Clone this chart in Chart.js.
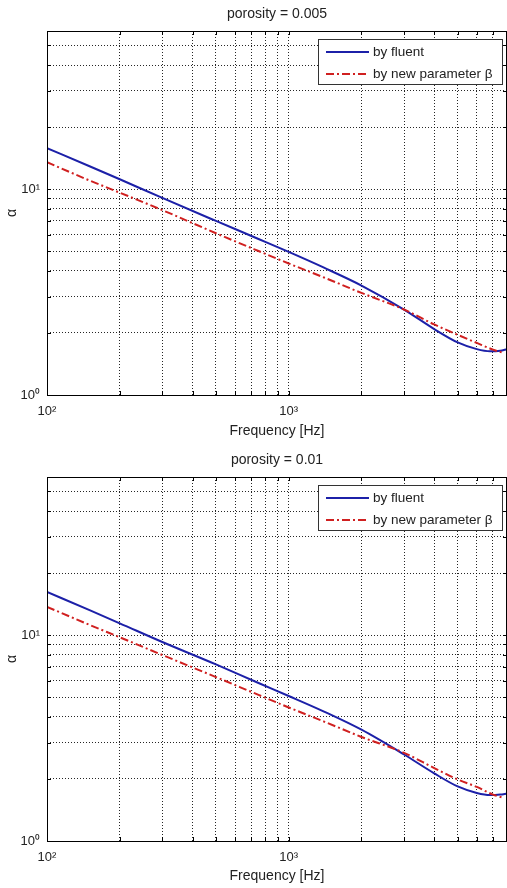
<!DOCTYPE html>
<html lang="en">
<head>
<meta charset="UTF-8">
<title>alpha vs frequency</title>
<style>
  body { margin: 0; background: #fff; }
  canvas { display: block; }
</style>
</head>
<body>
<canvas id="chartTop" width="507" height="446"></canvas>
<canvas id="chartBottom" width="507" height="442"></canvas>
<script src="https://cdn.jsdelivr.net/npm/chart.js"></script>
<script>
// values
const freqFluent = [100, 150, 200, 300, 500, 750, 1000, 1400, 2000, 3000, 4000, 5000, 6000, 6800, 7500, 8000];
const freqBeta   = [100, 150, 200, 300, 500, 750, 1000, 1400, 2000, 3000, 4000, 5000, 6000, 7000, 7600];

const fluent005 = [15.8, 12.9, 11.15, 9.05, 7.0, 5.72, 4.95, 4.15, 3.40, 2.60, 2.09, 1.80, 1.67, 1.63, 1.64, 1.67];
const beta005   = [13.5, 11.0, 9.6, 7.9, 6.1, 5.0, 4.35, 3.72, 3.13, 2.60, 2.20, 1.96, 1.79, 1.66, 1.61];

const fluent01 = [16.2, 13.2, 11.4, 9.25, 7.2, 5.85, 5.06, 4.25, 3.47, 2.63, 2.13, 1.84, 1.71, 1.67, 1.68, 1.70];
const beta01   = [13.7, 11.2, 9.75, 8.0, 6.25, 5.12, 4.45, 3.80, 3.20, 2.68, 2.26, 1.99, 1.83, 1.68, 1.63];

const xTicks = [100, 200, 300, 400, 500, 600, 700, 800, 900, 1000, 2000, 3000, 4000, 5000, 6000, 7000];
const yTicks = [1, 2, 3, 4, 5, 6, 7, 8, 9, 10, 20, 30, 40, 50];
const tickLabels = { 1: '10⁰', 10: '10¹', 100: '10²', 1000: '10³' };

const BLUE = '#1c20a8';
const RED = '#d02020';
const FONT = '"Liberation Sans", Arial, sans-serif';

// box, inward ticks and legend, matlab style
const frame = {
  id: 'frame',
  afterDraw(chart) {
    const { ctx, chartArea: a, scales: { x, y } } = chart;
    ctx.save();
    ctx.strokeStyle = '#000';
    ctx.lineWidth = 1;
    ctx.setLineDash([]);
    ctx.strokeRect(a.left + 0.5, a.top + 0.5, a.right - a.left - 1, a.bottom - a.top);
    ctx.beginPath();
    xTicks.forEach(v => {
      const px = Math.round(x.getPixelForValue(v)) + 0.5;
      ctx.moveTo(px, a.bottom); ctx.lineTo(px, a.bottom - 4);
      ctx.moveTo(px, a.top); ctx.lineTo(px, a.top + 4);
    });
    yTicks.forEach(v => {
      const py = Math.round(y.getPixelForValue(v)) + 0.5;
      ctx.moveTo(a.left, py); ctx.lineTo(a.left + 4, py);
      ctx.moveTo(a.right, py); ctx.lineTo(a.right - 4, py);
    });
    ctx.stroke();

    // legend box
    const bx = a.right - 189, by = a.top + 8, bw = 184, bh = 45;
    ctx.fillStyle = '#fff';
    ctx.fillRect(bx, by, bw, bh);
    ctx.strokeStyle = '#333';
    ctx.strokeRect(bx + 0.5, by + 0.5, bw, bh);
    ctx.font = '13.5px ' + FONT;
    ctx.textBaseline = 'middle';
    chart.data.datasets.forEach((ds, i) => {
      const ly = by + 13 + i * 22;
      ctx.strokeStyle = ds.borderColor;
      ctx.lineWidth = 2;
      ctx.setLineDash(ds.borderDash || []);
      ctx.beginPath();
      ctx.moveTo(bx + 8, ly); ctx.lineTo(bx + 51, ly);
      ctx.stroke();
      ctx.fillStyle = '#222';
      ctx.fillText(ds.label, bx + 55, ly);
    });
    ctx.restore();
  }
};

function makeChart(id, title, fluent, beta, xHeight, xTitlePad) {
  return new Chart(document.getElementById(id), {
    type: 'line',
    data: {
      datasets: [
        {
          label: 'by fluent',
          data: freqFluent.map((f, i) => ({ x: f, y: fluent[i] })),
          borderColor: BLUE,
          borderWidth: 2,
          pointRadius: 0,
          cubicInterpolationMode: 'monotone',
          order: 2
        },
        {
          label: 'by new parameter β',
          data: freqBeta.map((f, i) => ({ x: f, y: beta[i] })),
          borderColor: RED,
          borderWidth: 2,
          borderDash: [8, 3, 2, 3],
          pointRadius: 0,
          cubicInterpolationMode: 'monotone',
          order: 1
        }
      ]
    },
    options: {
      responsive: false,
      animation: false,
      layout: { padding: 0 },
      plugins: {
        legend: { display: false },
        tooltip: { enabled: false },
        title: {
          display: true,
          text: title,
          fullSize: false,
          color: '#222',
          font: { family: FONT, size: 14, weight: 'normal', lineHeight: 1.2 },
          padding: { top: 6, bottom: 8.2 }
        }
      },
      scales: {
        x: {
          type: 'logarithmic',
          min: 100,
          max: 8000,
          border: { display: false, dash: [1, 2] },
          grid: { color: 'rgba(0,0,0,0.85)', lineWidth: 1, drawTicks: false },
          afterBuildTicks: s => { s.ticks = xTicks.map(v => ({ value: v })); },
          afterFit: s => { s.height = xHeight; },
          ticks: {
            autoSkip: false,
            maxRotation: 0,
            padding: 9,
            color: '#222',
            font: { family: FONT, size: 13 },
            callback: v => tickLabels[v] || ''
          },
          title: {
            display: true,
            text: 'Frequency [Hz]',
            color: '#222',
            font: { family: FONT, size: 14, lineHeight: 1.2 },
            padding: { top: 0, bottom: xTitlePad }
          }
        },
        y: {
          type: 'logarithmic',
          min: 1,
          max: 58.5,
          border: { display: false, dash: [1, 2] },
          grid: { color: 'rgba(0,0,0,0.85)', lineWidth: 1, drawTicks: false },
          afterBuildTicks: s => { s.ticks = yTicks.map(v => ({ value: v })); },
          afterFit: s => { s.width = 47; },
          ticks: {
            autoSkip: false,
            padding: 7,
            color: '#222',
            font: { family: FONT, size: 13 },
            callback: v => tickLabels[v] || ''
          },
          title: {
            display: true,
            text: 'α',
            color: '#222',
            font: { family: FONT, size: 14, lineHeight: 1.2 },
            padding: { top: 4, bottom: 0 }
          }
        }
      }
    },
    plugins: [frame]
  });
}

makeChart('chartTop', 'porosity = 0.005', fluent005, beta005, 51, 6.2);
makeChart('chartBottom', 'porosity = 0.01', fluent01, beta01, 47, 3.2);
</script>
</body>
</html>
